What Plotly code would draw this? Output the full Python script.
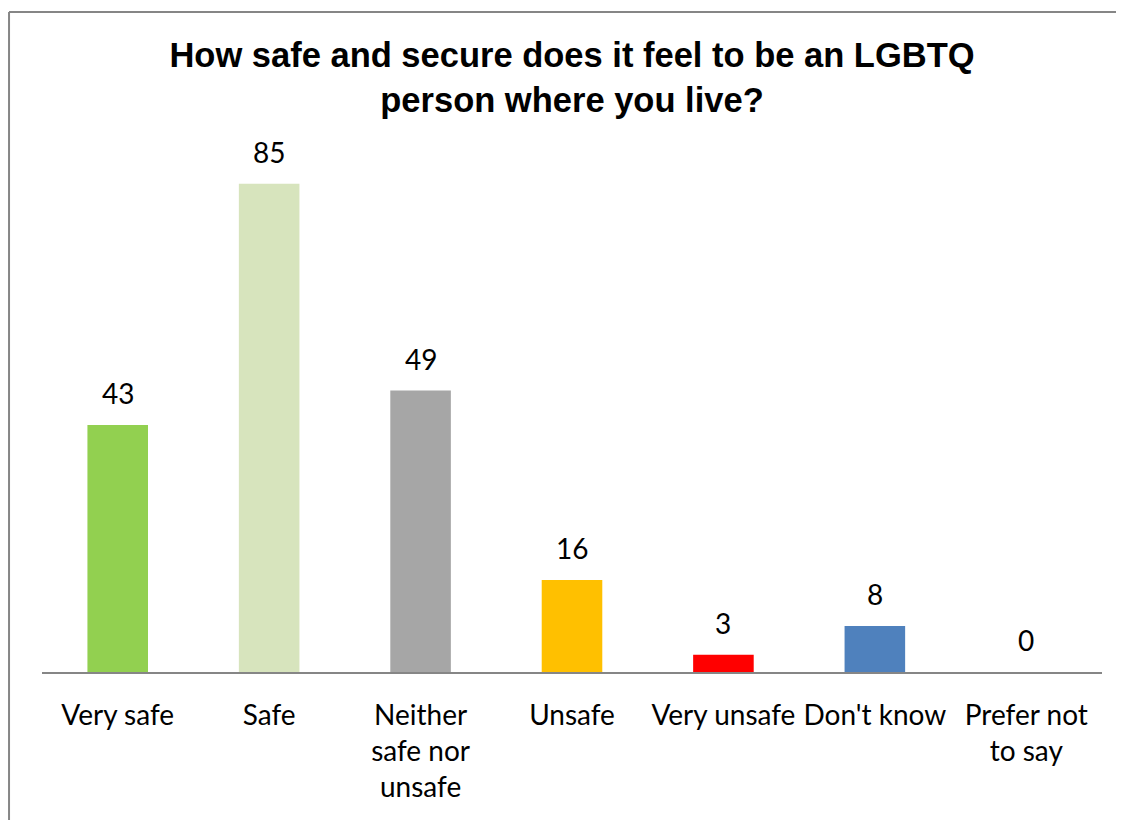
import plotly.graph_objects as go

categories = ["Very safe", "Safe", "Neither safe nor unsafe", "Unsafe", "Very unsafe", "Don't know", "Prefer not to say"]
tick_labels = ["Very safe", "Safe", "Neither<br>safe nor<br>unsafe", "Unsafe", "Very unsafe", "Don't know", "Prefer not<br>to say"]
values = [43, 85, 49, 16, 3, 8, 0]
colors = ["#92D050", "#D7E4BD", "#A6A6A6", "#FFC000", "#FF0000", "#4F81BD", "#8064A2"]

label_font = dict(family="Lato, Carlito, Calibri, sans-serif", size=28, color="#000000")
border = dict(color="#868686", width=2)

fig = go.Figure()
fig.add_trace(go.Bar(x=categories, y=values, marker=dict(color=colors, line=dict(width=0)),
                     showlegend=False, hoverinfo="x+y"))

for c, v in zip(categories, values):
    fig.add_annotation(x=c, y=v, text=str(v), showarrow=False, yanchor="bottom",
                       yshift=13, font=label_font)

fig.update_layout(
    width=1116, height=812,
    margin=dict(l=34, r=22, t=147, b=148, pad=0),
    paper_bgcolor="white", plot_bgcolor="white",
    bargap=0.6,
    title=dict(text="How safe and secure does it feel to be an LGBTQ<br>person where you live?",
               x=0.5, xref="paper", xanchor="center", y=0.927, yanchor="top",
               font=dict(family="Liberation Sans, Arial, sans-serif", size=34.5, color="#000000", weight="bold")),
    xaxis=dict(tickmode="array", tickvals=categories, ticktext=tick_labels,
               showline=True, linecolor="#868686", linewidth=2, ticks="", showgrid=False,
               tickfont=label_font, ticklabelstandoff=17, tickangle=0),
    yaxis=dict(range=[0, 90], visible=False, showgrid=False, zeroline=False),
    shapes=[
        dict(type="line", xref="paper", yref="paper", x0=-0.0311, x1=1.03, y0=1.2766, y1=1.2766, line=border),
        dict(type="line", xref="paper", yref="paper", x0=-0.0311, x1=-0.0311, y0=-0.4, y1=1.2766, line=border),
    ],
)

fig.write_html("out.html")
